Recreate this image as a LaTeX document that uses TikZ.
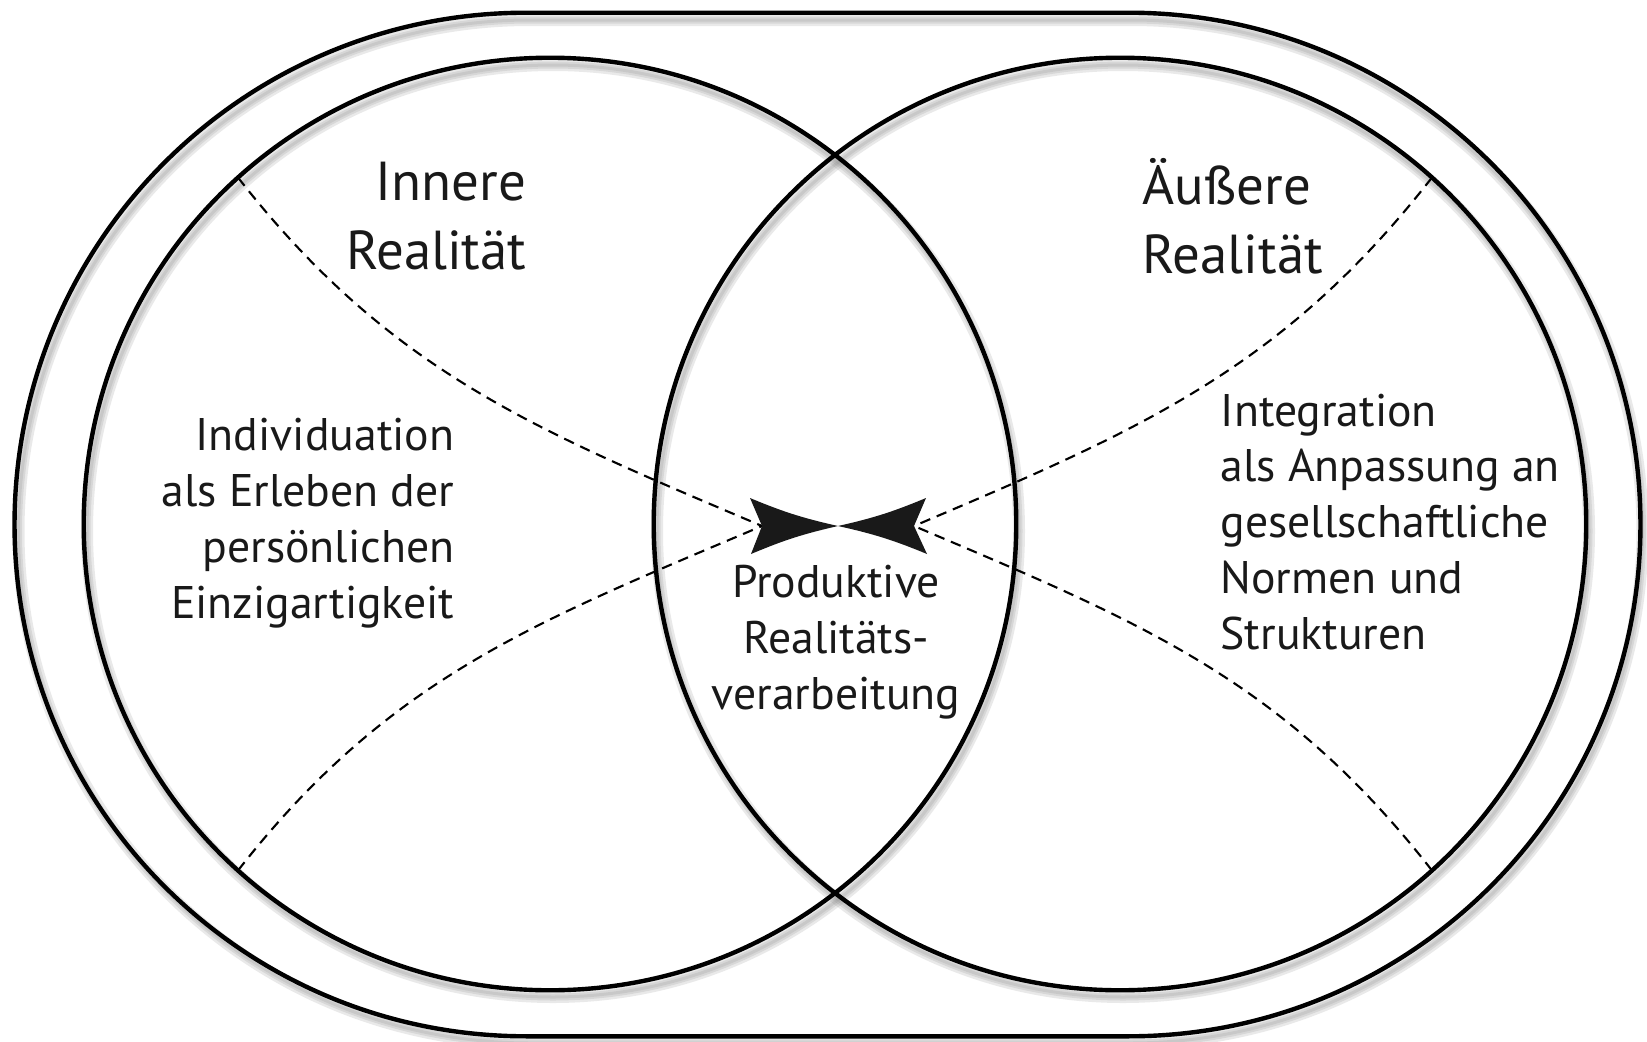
\documentclass[tikz,border=0pt]{standalone}
\usepackage{fontspec}
\setmainfont{PT Sans}
\usetikzlibrary{shapes.misc}

\begin{document}
\begin{tikzpicture}[x=0.01cm, y=0.01cm,
    kreis/.style={circle, draw, line width=1.25pt, minimum size=9.32cm, inner sep=0pt, outer sep=0pt},
    halo/.style={gray, line width=#1, opacity=0.17},
    weg/.style={dash pattern=on 3pt off 2pt, line width=0.6pt},
    titel/.style={font=\fontsize{15.6}{19.6}\selectfont, text=black!90, inner sep=0pt},
    beschr/.style={font=\fontsize{13}{15.9}\selectfont, text=black!90, inner sep=0pt}]
    \fill[white] (0,0) rectangle (1647,-1042);
    \useasboundingbox (0,0) rectangle (1647,-1042);
    % soft shadows under the lines
    \foreach \w in {0.03cm,0.07cm,0.12cm} {
        \draw[halo=\w, shift={(3,-7)}] (527,-13) -- (1128,-13) arc(90:-90:511.5) -- (527,-1036) arc(270:90:511.5) -- cycle;
        \draw[halo=\w, shift={(3,-7)}] (550,-524) circle[radius=466];
        \draw[halo=\w, shift={(3,-7)}] (1120,-524) circle[radius=466];
    }
    \node[rounded rectangle, draw, line width=1.25pt, minimum width=16.25cm, minimum height=10.23cm, inner sep=0pt] (gesamt) at (827.5,-524.5) {};
    \node[kreis] (innere) at (550,-524) {};
    \node[kreis] (aeussere) at (1120,-524) {};
    % the two heads in the middle
    \coordinate (mitte) at (838,-526);
    \coordinate (lkerbe) at (762,-526);
    \coordinate (rkerbe) at (914,-526);
    \coordinate (lo) at (750,-498);
    \coordinate (lu) at (751,-554);
    \coordinate (ro) at (926,-498);
    \coordinate (ru) at (927,-554);
    \draw[weg] (innere.132) to[out=-52, in=157] (lkerbe);
    \draw[weg] (innere.228) to[out=52, in=-157] (lkerbe);
    \draw[weg] (aeussere.48) to[out=-128, in=23] (rkerbe);
    \draw[weg] (aeussere.-48) to[out=128, in=-23] (rkerbe);
    \fill[black!90] (lo) to[bend right=5] (mitte) to[bend right=5] (lu) -- (lkerbe) -- cycle;
    \fill[black!90] (ro) to[bend left=5] (mitte) to[bend left=5] (ru) -- (rkerbe) -- cycle;
    % labels
    \node[titel, anchor=east, align=right] (innentitel) at (527,-216) {Innere\\Realität};
    \node[titel, anchor=west, align=left] (aussentitel) at (1142,-216) {Äußere\\Realität};
    \node[beschr, anchor=east, align=right] (individuation) at (455,-523) {Individuation\\als Erleben der\\persönlichen\\Einzigartigkeit};
    \node[beschr, anchor=west, align=left] (integration) at (1220,-522) {Integration\\als Anpassung an\\gesellschaftliche\\Normen und\\Strukturen};
    \node[beschr, align=center] (produktiv) at (836,-642) {Produktive\\Realitäts-\\verarbeitung};
\end{tikzpicture}
\end{document}
